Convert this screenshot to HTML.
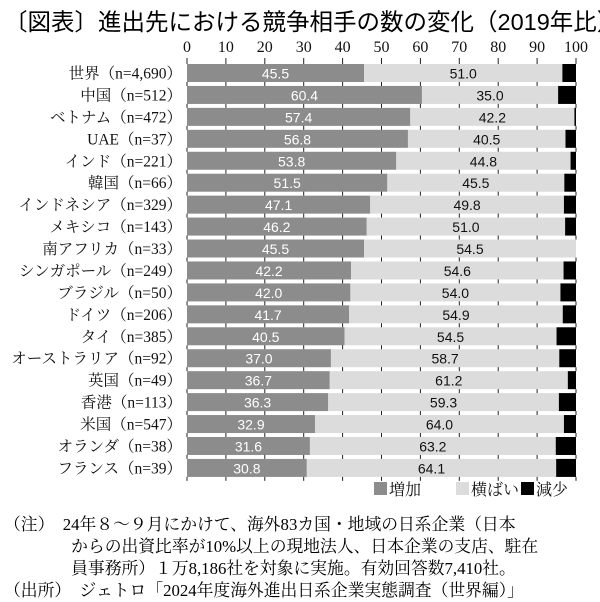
<!DOCTYPE html>
<html><head><meta charset="utf-8"><style>
body{margin:0;background:#fff;width:600px;height:600px;overflow:hidden;font-family:"Liberation Serif","Noto Serif CJK SC",serif;}
.t{position:absolute;white-space:nowrap;}
</style></head><body>
<div class="t" style="left:4px;top:3px;font-size:23.5px;font-family:'Liberation Sans','Noto Sans CJK JP',sans-serif;font-weight:normal;">〔図表〕進出先における競争相手の数の変化（2019年比）</div>
<svg id="ch" width="600" height="600" style="position:absolute;left:0;top:0"></svg>
<div class="t" style="left:4px;top:514px;font-size:16.8px;line-height:22px;font-family:'Liberation Serif','Noto Serif CJK JP',serif;">（注）　24年８～９月にかけて、海外83カ国・地域の日系企業（日本<br>　　　　からの出資比率が10%以上の現地法人、日本企業の支店、駐在<br>　　　　員事務所）１万8,186社を対象に実施。有効回答数7,410社。<br>（出所）　ジェトロ「2024年度海外進出日系企業実態調査（世界編）」</div>
<script>
const categories=["世界（n=4,690）","中国（n=512）","ベトナム（n=472）","UAE（n=37）","インド（n=221）","韓国（n=66）","インドネシア（n=329）","メキシコ（n=143）","南アフリカ（n=33）","シンガポール（n=249）","ブラジル（n=50）","ドイツ（n=206）","タイ（n=385）","オーストラリア（n=92）","英国（n=49）","香港（n=113）","米国（n=547）","オランダ（n=38）","フランス（n=39）"];
const increase=[45.5,60.4,57.4,56.8,53.8,51.5,47.1,46.2,45.5,42.2,42.0,41.7,40.5,37.0,36.7,36.3,32.9,31.6,30.8];
const flat=[51.0,35.0,42.2,40.5,44.8,45.5,49.8,51.0,54.5,54.6,54.0,54.9,54.5,58.7,61.2,59.3,64.0,63.2,64.1];
const ticks=[0,10,20,30,40,50,60,70,80,90,100];
const legendLabels=["増加","横ばい","減少"];
const svg=document.getElementById('ch');const NS='http://www.w3.org/2000/svg';
const x0=187,x1=576,y0=64,step=21.94,bh=18;
const X=v=>x0+(x1-x0)*v/100;const Y=i=>y0+i*step;
function mk(t,a,p){const e=document.createElementNS(NS,t);for(const k in a)e.setAttribute(k,a[k]);(p||svg).appendChild(e);return e;}
ticks.forEach(v=>{const e=mk('text',{x:X(v),y:52,'text-anchor':'middle','font-size':16,'font-family':'Liberation Serif,serif',fill:'#111'});e.textContent=v;

});
categories.forEach((c,i)=>{const y=Y(i);const a=increase[i],b=flat[i],d=Math.max(0,100-a-b);
let r=mk('rect',{x:X(0),y:y,width:X(a)-X(0),height:bh,fill:'#8c8c8c'});


r=mk('rect',{x:X(a),y:y,width:X(a+b)-X(a),height:bh,fill:'#dcdcdc'});


r=mk('rect',{x:X(a+b),y:y,width:X(a+b+d)-X(a+b),height:bh,fill:'#000'});


let t=mk('text',{x:(X(0)+X(a))/2,y:y+14.5,'text-anchor':'middle','font-size':14,'font-family':'Liberation Sans,sans-serif',fill:'#fff'});t.textContent=a.toFixed(1);


t=mk('text',{x:(X(a)+X(a+b))/2,y:y+14.5,'text-anchor':'middle','font-size':14,'font-family':'Liberation Sans,sans-serif',fill:'#111'});t.textContent=b.toFixed(1);


t=mk('text',{x:182,y:y+14.5,'text-anchor':'end','font-size':15.5,'font-family':'Liberation Serif,Noto Serif CJK JP,serif',fill:'#111'});t.textContent=c;


});
for(let i=0;i<=categories.length;i++){const y=Y(i)-2;ticks.forEach(v=>{const l=mk('line',{x1:X(v),x2:X(v),y1:y-(i==0?4:2),y2:y+2,stroke:'#222','stroke-width':1});

});}
const lc=['#8c8c8c','#dcdcdc','#000'];const lx=[374,456,521];
legendLabels.forEach((s,i)=>{let r=mk('rect',{x:lx[i],y:482,width:13,height:13,fill:lc[i]});


let t=mk('text',{x:lx[i]+15,y:495,'font-size':16,'font-family':'Liberation Serif,Noto Serif CJK JP,serif',fill:'#111'});t.textContent=s;

});
</script>
</body></html>
